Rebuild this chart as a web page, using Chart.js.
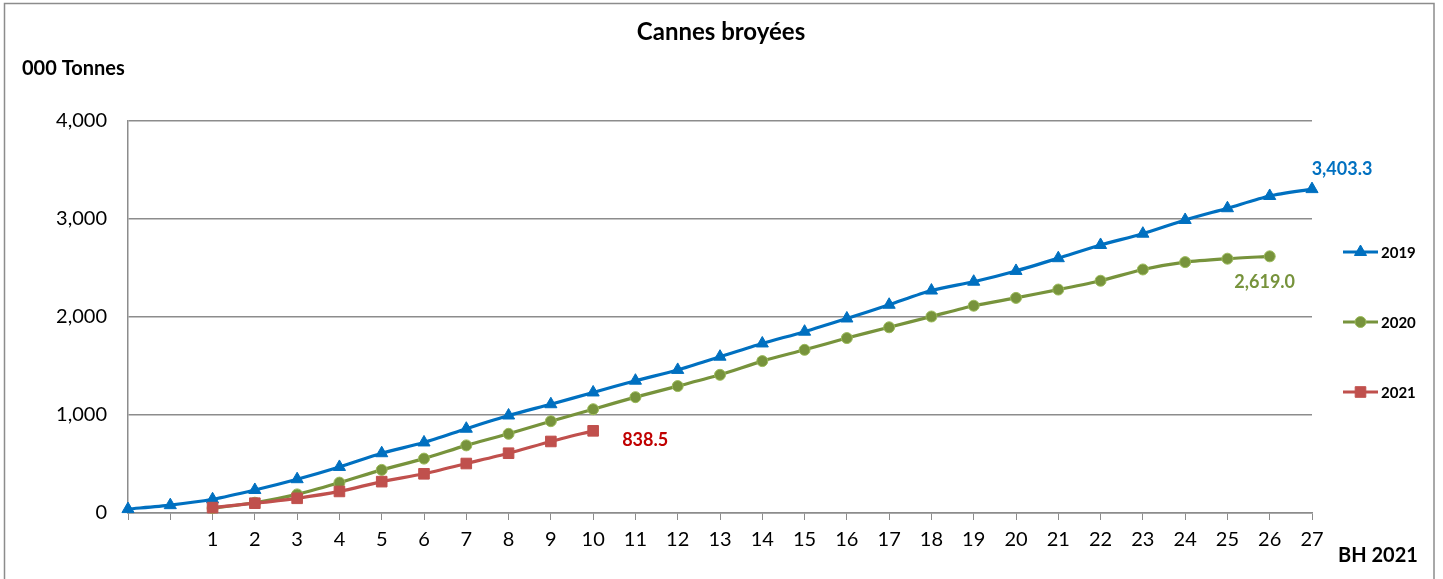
<!DOCTYPE html>
<html>
<head>
<meta charset="utf-8">
<script src="https://cdn.jsdelivr.net/npm/chart.js@4/dist/chart.umd.min.js"></script>
<style>
  html, body { margin: 0; padding: 0; background: #fff; }
  #wrap { position: relative; width: 1443px; height: 579px; }
</style>
</head>
<body>
<div id="wrap"><canvas id="c" width="1443" height="579"></canvas></div>
<script>
// ---- data ----
const chartTitle = 'Cannes broyées';
const yUnitLabel = '000 Tonnes';
const xUnitLabel = 'BH 2021';
const categories = ['', '', '1','2','3','4','5','6','7','8','9','10','11','12','13','14','15','16','17','18','19','20','21','22','23','24','25','26','27'];
const seriesNames = ['2019', '2020', '2021'];
const values2019 = [40, 80, 140, 235, 345, 470, 610, 720, 860, 995, 1110, 1230, 1350, 1460, 1595, 1730, 1850, 1985, 2125, 2270, 2360, 2470, 2600, 2735, 2850, 2990, 3110, 3235, 3305];
const values2020 = [null, null, 50, 105, 190, 310, 440, 555, 690, 808, 937, 1059, 1182, 1295, 1410, 1550, 1665, 1785, 1895, 2005, 2115, 2195, 2280, 2370, 2485, 2560, 2595, 2619, null];
const values2021 = [null, null, 55, 100, 150, 220, 320, 400, 505, 610, 730, 838.5, null, null, null, null, null, null, null, null, null, null, null, null, null, null, null, null, null];
const endLabels = ['3,403.3', '2,619.0', '838.5'];
const yTicks = [0, 1000, 2000, 3000, 4000];

const FONT = 'Lato, "Open Sans", "DejaVu Sans", sans-serif';
const colors = ['#0070C0', '#77933C', '#C0504D'];
const labelColors = ['#0070C0', '#77933C', '#C00000'];
const markerBorders = ['#0070C0', '#9BBB59', '#C0504D'];
const pointStyles = ['triangle', 'circle', 'rect'];
const pointRadii = [7, 5.5, 7.5];

const decor = {
  id: 'decor',
  beforeDraw(chart) {
    const ctx = chart.ctx;
    ctx.save();
    ctx.fillStyle = '#fff';
    ctx.fillRect(0, 0, chart.width, chart.height);
    ctx.strokeStyle = '#8c8c8c';
    ctx.lineWidth = 1.5;
    ctx.strokeRect(4.5, 3.5, 1429.5, 600);
    ctx.restore();
  },
  afterDraw(chart) {
    const ctx = chart.ctx;
    ctx.save();
    ctx.textBaseline = 'middle';
    // title
    ctx.fillStyle = '#000';
    ctx.font = 'bold 24px ' + FONT;
    ctx.textAlign = 'center';
    ctx.fillText(chartTitle, 721, 32);
    // y unit
    ctx.font = 'bold 20px ' + FONT;
    ctx.textAlign = 'left';
    ctx.fillText(yUnitLabel, 22, 69);
    // x unit
    ctx.font = 'bold 20px ' + FONT;
    ctx.fillText(xUnitLabel, 1338, 556);
    // end labels
    const offsets = [[30, -20], [-5, 26], [52, 9]];
    chart.data.datasets.forEach((ds, i) => {
      const meta = chart.getDatasetMeta(i);
      let last = -1;
      ds.data.forEach((v, k) => { if (v !== null) last = k; });
      const pt = meta.data[last];
      ctx.font = 'bold 18px ' + FONT;
      ctx.fillStyle = labelColors[i];
      ctx.textAlign = 'center';
      ctx.fillText(endLabels[i], pt.x + offsets[i][0], pt.y + offsets[i][1]);
    });
    // legend
    const legendY = [252, 322, 392];
    chart.data.datasets.forEach((ds, i) => {
      const y = legendY[i];
      ctx.strokeStyle = ds.borderColor;
      ctx.lineWidth = 3;
      ctx.beginPath();
      ctx.moveTo(1343, y);
      ctx.lineTo(1378, y);
      ctx.stroke();
      ctx.fillStyle = ds.pointBackgroundColor;
      ctx.strokeStyle = ds.pointBorderColor;
      ctx.lineWidth = 1;
      Chart.helpers.drawPoint(ctx, {pointStyle: ds.pointStyle, radius: ds.pointRadius, borderWidth: 1}, 1360.5, y);
      ctx.fillStyle = '#000';
      ctx.font = 'bold 15px ' + FONT;
      ctx.textAlign = 'left';
      ctx.fillText(ds.label, 1381, y + 1);
    });
    ctx.restore();
  }
};

const seriesValues = [values2019, values2020, values2021];
const datasets = seriesNames.map((name, i) => ({
  label: name,
  data: seriesValues[i],
  borderColor: colors[i],
  backgroundColor: colors[i],
  pointBackgroundColor: colors[i],
  pointBorderColor: markerBorders[i],
  pointBorderWidth: 1,
  pointStyle: pointStyles[i],
  pointRadius: pointRadii[i],
  pointHoverRadius: pointRadii[i],
  borderWidth: 3.2,
  tension: 0.25,
  clip: false,
  order: 2 - i
}));

new Chart(document.getElementById('c'), {
  type: 'line',
  data: { labels: categories, datasets },
  plugins: [decor],
  options: {
    responsive: false,
    animation: false,
    layout: { padding: { left: 0, top: 121, right: 131, bottom: 0 } },
    plugins: { legend: { display: false }, title: { display: false }, tooltip: { enabled: false } },
    scales: {
      x: {
        type: 'category',
        offset: false,
        grid: { display: true, drawOnChartArea: false, drawTicks: true, tickLength: 7, color: '#8c8c8c', lineWidth: 1 },
        border: { display: true, color: '#8c8c8c', width: 1.5 },
        ticks: { color: '#000', font: { family: FONT, size: 20 }, padding: 8, autoSkip: false, maxRotation: 0 },
        afterFit(s) { s.height = 66; }
      },
      y: {
        min: 0, max: 4000,
        afterBuildTicks(s) { s.ticks = yTicks.map(v => ({ value: v })); },
        grid: { color: '#8c8c8c', lineWidth: 1.5, drawTicks: false },
        border: { display: true, color: '#8c8c8c', width: 1.5 },
        ticks: {
          color: '#000', font: { family: FONT, size: 20 }, padding: 21,
          callback: v => v.toLocaleString('en-US')
        },
        afterFit(s) { s.width = 128; }
      }
    }
  }
});
</script>
</body>
</html>
